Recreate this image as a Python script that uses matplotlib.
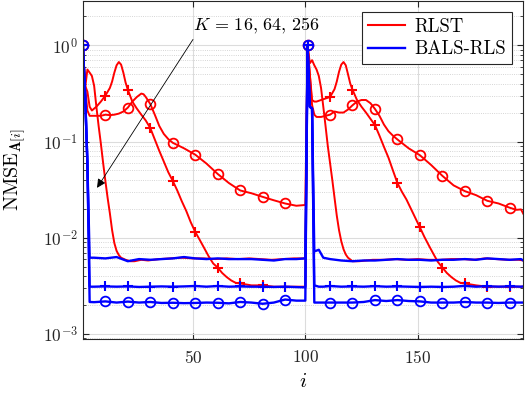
import matplotlib
matplotlib.use("Agg")
import matplotlib.pyplot as plt
from matplotlib.lines import Line2D

plt.rcParams['font.family'] = 'serif'
plt.rcParams['font.serif'] = ['cmr10', 'DejaVu Serif']
plt.rcParams['mathtext.fontset'] = 'cm'
plt.rcParams['axes.formatter.use_mathtext'] = True

# ---- RLST (red) ----
rlst16_i = [1, 2, 3, 4, 5, 6, 7, 8, 9, 10, 11, 12, 13, 14, 15, 16, 17, 18, 20, 22, 24, 27, 30,
            35, 40, 45, 50, 55, 60, 65, 70, 75, 80, 85, 90, 95, 100,
            101, 102, 103, 104, 105, 106, 107, 108, 109, 110, 111, 112, 113, 114, 115, 116, 117, 118, 119,
            121, 124, 127, 130, 135, 140, 145, 150, 155, 160, 165, 170, 175, 180, 185, 190, 195, 197]
rlst16_v = [1, 0.36, 0.56, 0.52, 0.48, 0.38, 0.23, 0.145, 0.095, 0.06, 0.039, 0.026, 0.018, 0.012,
            0.0088, 0.0073, 0.0066, 0.0062, 0.0059, 0.0057, 0.0057, 0.0059, 0.0058,
            0.0060, 0.0061, 0.0062, 0.0061, 0.0061, 0.0060, 0.0061, 0.0060, 0.0061, 0.0060, 0.0059,
            0.0060, 0.0061, 0.0061,
            1, 0.65, 0.70, 0.62, 0.56, 0.48, 0.36, 0.23, 0.145, 0.09, 0.06, 0.04, 0.026, 0.017, 0.012,
            0.0092, 0.0076, 0.0067, 0.0062,
            0.0057, 0.0057, 0.0058, 0.0059, 0.0059, 0.0060, 0.0059, 0.0060, 0.0059, 0.0059, 0.0060,
            0.0060, 0.0059, 0.0061, 0.0060, 0.0059, 0.0059, 0.0058]

rlst64_i = [1, 2, 3, 4, 5, 7, 9, 11, 13, 14, 15, 16, 17, 18, 19, 20, 21,
            23, 25, 27, 29, 31, 33, 35, 37, 39, 41, 43, 45, 47, 49, 51, 53, 55, 57, 59, 61,
            63, 65, 67, 69, 71, 76, 81, 86, 91, 96, 100,
            101, 102, 103, 104, 105, 107, 109, 111, 113, 114, 115, 116, 117, 118, 119, 120, 121,
            123, 125, 127, 129, 131, 133, 135, 137, 139, 141, 143, 145, 147, 149, 151, 153, 155,
            157, 159, 161, 163, 165, 167, 169, 171, 176, 181, 186, 191, 196, 197]
rlst64_v = [1, 0.38, 0.33, 0.23, 0.21, 0.23, 0.26, 0.30, 0.36, 0.42, 0.52, 0.62, 0.67, 0.63, 0.52,
            0.41, 0.345,
            0.26, 0.22, 0.19, 0.165, 0.138, 0.105, 0.08, 0.062, 0.048, 0.039, 0.031, 0.024, 0.019,
            0.0145, 0.0115, 0.0095, 0.0078, 0.0064, 0.0054, 0.0049,
            0.0043, 0.0039, 0.0036, 0.0034, 0.00335, 0.0032, 0.0032, 0.0031, 0.0031, 0.0031, 0.0031,
            1, 0.5, 0.27, 0.26, 0.26, 0.27, 0.28, 0.29, 0.35, 0.42, 0.53, 0.63, 0.67, 0.62, 0.50,
            0.40, 0.345,
            0.27, 0.23, 0.2, 0.172, 0.148, 0.115, 0.088, 0.068, 0.05, 0.037, 0.03, 0.025, 0.02,
            0.016, 0.0128, 0.0102, 0.0083, 0.0068, 0.0056, 0.0049,
            0.0043, 0.0039, 0.0036, 0.0034, 0.00335, 0.0032, 0.0031, 0.0031, 0.0031, 0.0031, 0.0031]

rlst256_i = [1, 2, 3, 4, 5, 7, 9, 11, 13, 15, 17, 19, 21, 23, 25, 27, 28, 29, 31, 33, 35, 37, 39, 41,
             46, 51, 56, 61, 66, 71, 76, 81, 86, 91, 96, 100,
             101, 102, 103, 104, 105, 107, 109, 111, 113, 115, 117, 119, 121, 123, 125, 127, 129, 131,
             133, 135, 137, 139, 141, 146, 151, 156, 161, 166, 171, 176, 181, 186, 191, 194, 196, 197]
rlst256_v = [1, 0.36, 0.21, 0.185, 0.185, 0.185, 0.185, 0.19, 0.188, 0.19, 0.195, 0.205, 0.225,
             0.26, 0.29, 0.315, 0.31, 0.29, 0.245, 0.19, 0.145, 0.12, 0.106, 0.097,
             0.085, 0.073, 0.059, 0.046, 0.037, 0.031, 0.029, 0.0266, 0.0245, 0.0227, 0.0215, 0.0219,
             1, 0.5, 0.24, 0.19, 0.18, 0.18, 0.185, 0.19, 0.205, 0.2, 0.2, 0.215, 0.238, 0.26, 0.27,
             0.27, 0.25, 0.218, 0.185, 0.15, 0.128, 0.115, 0.105, 0.085, 0.072, 0.057, 0.044, 0.035,
             0.0305, 0.0277, 0.0242, 0.0227, 0.0205, 0.0195, 0.0197, 0.0178]

# ---- BALS-RLS (blue), shared index grid ----
bals_i = [1, 2, 3, 4, 6, 11, 16, 21, 26, 31, 36, 41, 46, 51, 56, 61, 66, 71, 76, 81, 86, 91, 96, 100,
          101, 102, 103, 104, 106, 108, 111, 116, 121, 126, 131, 136, 141, 146, 151, 156, 161, 166,
          171, 176, 181, 186, 191, 196, 197]
bals16_v = [1, 0.3, 0.06, 0.0062, 0.0062, 0.0061, 0.0063, 0.0057, 0.006, 0.0059, 0.006, 0.0061,
            0.0063, 0.0061, 0.006, 0.0061, 0.006, 0.006, 0.006, 0.0059, 0.0058, 0.006, 0.006, 0.0061,
            1, 0.23, 0.22, 0.0072, 0.0075, 0.0062, 0.006, 0.0058, 0.0057, 0.0058, 0.0058, 0.0059,
            0.006, 0.0059, 0.0059, 0.0058, 0.0059, 0.0059, 0.006, 0.0059, 0.0061, 0.006, 0.0059,
            0.006, 0.0058]
bals64_v = [1, 0.3, 0.06, 0.0031, 0.0031, 0.00312, 0.0031, 0.00312, 0.00308, 0.0031, 0.00312,
            0.0031, 0.00312, 0.00315, 0.0031, 0.00315, 0.0031, 0.00312, 0.0031, 0.0031, 0.00308,
            0.0031, 0.00307, 0.00305,
            1, 0.23, 0.22, 0.0032, 0.0031, 0.0031, 0.00315, 0.0031, 0.00312, 0.0031, 0.00314,
            0.0031, 0.00312, 0.0031, 0.00308, 0.0031, 0.00308, 0.0031, 0.00316, 0.0031, 0.00313,
            0.0031, 0.00312, 0.0031, 0.00312]
bals256_v = [1, 0.3, 0.06, 0.00215, 0.00214, 0.00218, 0.00212, 0.00217, 0.00212, 0.00215, 0.0021,
             0.00211, 0.00209, 0.0021, 0.00212, 0.00211, 0.00208, 0.00215, 0.00212, 0.00206,
             0.00212, 0.00228, 0.00222, 0.00222,
             1, 0.23, 0.22, 0.00212, 0.00212, 0.00212, 0.00212, 0.00212, 0.00212, 0.00215, 0.00225,
             0.0022, 0.00225, 0.0022, 0.00218, 0.00212, 0.00212, 0.00212, 0.00215, 0.00212,
             0.00212, 0.0021, 0.00212, 0.00212, 0.00212]

x_ticks = [50, 100, 150]


def marks(idx):
    # marker every 10 iterations, starting at i = 1
    return [k for k, i in enumerate(idx) if (i - 1) % 10 == 0]


fig = plt.figure(figsize=(5.28, 3.96), dpi=100)
ax = fig.add_axes([0.157, 0.144, 0.834, 0.854])

red, blue = '#ff0000', '#0000ff'
ax.plot(rlst256_i, rlst256_v, color=red, lw=1.4, marker='o', ms=7, mfc='none', mew=1.3,
        markevery=marks(rlst256_i))
ax.plot(rlst64_i, rlst64_v, color=red, lw=1.4, marker='+', ms=7, mew=1.5,
        markevery=marks(rlst64_i))
ax.plot(rlst16_i, rlst16_v, color=red, lw=1.4)

ax.plot(bals_i, bals256_v, color=blue, lw=1.7, marker='o', ms=7, mfc='none', mew=1.3,
        markevery=marks(bals_i))
ax.plot(bals_i, bals64_v, color=blue, lw=1.7, marker='+', ms=7, mew=1.5,
        markevery=marks(bals_i))
ax.plot(bals_i, bals16_v, color=blue, lw=1.7)

ax.set_yscale('log')
ax.set_xlim(1, 197)
ax.set_ylim(8.87e-4, 2.9)
ax.set_xticks(x_ticks)
ax.set_yticks([1e-3, 1e-2, 1e-1, 1e0])

ax.grid(True, which='major', color='#dcdcdc', lw=0.8, ls='-')
ax.grid(True, which='minor', axis='y', color='#c8c8c8', lw=0.6, ls=':')
ax.set_axisbelow(True)

ax.tick_params(which='both', direction='in', top=True, right=True, colors='#262626')
ax.tick_params(which='major', length=4, labelsize=12.5)
ax.tick_params(axis='x', which='major', pad=7)
ax.tick_params(which='minor', length=2.5)
for s in ax.spines.values():
    s.set_color('#262626')
    s.set_linewidth(0.8)

ax.set_xlabel(r'$i$', fontsize=15)
ax.xaxis.set_label_coords(0.5, -0.10)
ax.set_ylabel(r'$\mathrm{NMSE}_{\mathbf{A}[i]}$', fontsize=14.5)
ax.yaxis.set_label_coords(-0.125, 0.5)

ax.annotate('', xy=(7.3, 0.033), xytext=(50, 1.15),
            arrowprops=dict(arrowstyle='-|>', color='k', lw=0.6, mutation_scale=13,
                            shrinkA=0, shrinkB=0))
ax.text(50, 1.6, r'$K\, =\, 16,\, 64,\, 256$', fontsize=13, ha='left', va='center')

handles = [Line2D([], [], color=red, lw=1.5, label='RLST'),
           Line2D([], [], color=blue, lw=1.7, label='BALS-RLS')]
leg = ax.legend(handles=handles, loc='upper right', fontsize=13.5, fancybox=False,
                edgecolor='#262626', framealpha=1, borderaxespad=0.6, handlelength=2.0,
                borderpad=0.3, labelspacing=0.25, handletextpad=0.5)
leg.get_frame().set_linewidth(0.8)

fig.savefig('out.png', dpi=100)
